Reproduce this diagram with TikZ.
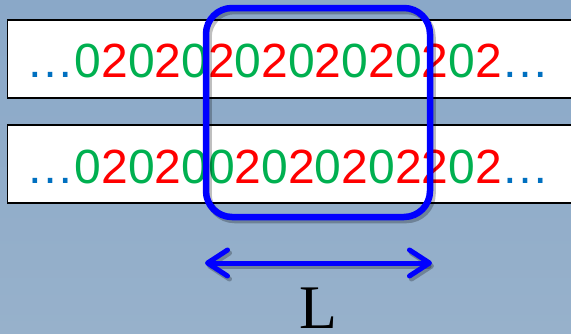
\documentclass[tikz,border=0pt]{standalone}
\usepackage{fontspec}
\setmainfont{Liberation Sans}
\newfontfamily\serifL{Liberation Serif}
\usetikzlibrary{arrows.meta}
\definecolor{bgtop}{HTML}{8AA8C8}
\definecolor{bgbot}{HTML}{97B1CB}
\definecolor{zgreen}{HTML}{00B050}
\definecolor{tred}{HTML}{FF0000}
\definecolor{dotblue}{HTML}{0070C0}
\newcommand{\Zo}{\textcolor{zgreen}{0}}
\newcommand{\Tw}{\textcolor{tred}{2}}
\newcommand{\Dt}{\textcolor{dotblue}{…}}
\tikzset{
  strip/.style={draw=black, line width=1.5pt, fill=white},
  seq/.style={anchor=base west, inner sep=0pt, font=\fontsize{48}{48}\selectfont},
  window/.style={draw=blue, line width=6.5pt, rounded corners=26pt,
     minimum width=224pt, minimum height=209pt, inner sep=0pt},
  shadowbox/.style={window, draw=black, opacity=0.25},
  lenarrow/.style={draw=blue, line width=5pt, line cap=round,
     {Straight Barb[length=20pt,width=26pt,round]}-{Straight Barb[length=20pt,width=26pt,round]}},
}
\begin{document}
\begin{tikzpicture}[x=1pt,y=-1pt]
\useasboundingbox (0,0) rectangle (571,333);
\shade[top color=bgtop, bottom color=bgbot] (0,0) rectangle (571,333);
% strips
\path[strip] (7.5,20) rectangle (580,98);
\path[strip] (7.5,125) rectangle (580,203);
% sequences
\node[seq] (s1) at (26.5,77) {\Dt\Zo\Tw\Zo\Tw\Zo\Tw\Zo\Tw\Zo\Tw\Zo\Tw\Zo\Tw\Zo\Tw\Dt};
\node[seq] (s2) at (26.5,183) {\Dt\Zo\Tw\Zo\Tw\Zo\Zo\Tw\Zo\Tw\Zo\Tw\Zo\Tw\Tw\Zo\Tw\Dt};
% window
\node[shadowbox] (winsh) at (320.5,115.5) {};
\node[window] (win) at (318,112.5) {};
% length arrow
\coordinate (al) at (205,263);
\coordinate (ar) at (432,263);
\coordinate (als) at (207,266);
\coordinate (ars) at (434,266);
\draw[lenarrow, draw=black, opacity=0.25] (als) -- (ars);
\draw[lenarrow] (al) -- (ar);
\node[anchor=base, inner sep=0pt, text depth=0pt, font=\serifL\fontsize{62}{62}\selectfont] (L) at (318,328.5) {L};
\end{tikzpicture}
\end{document}
